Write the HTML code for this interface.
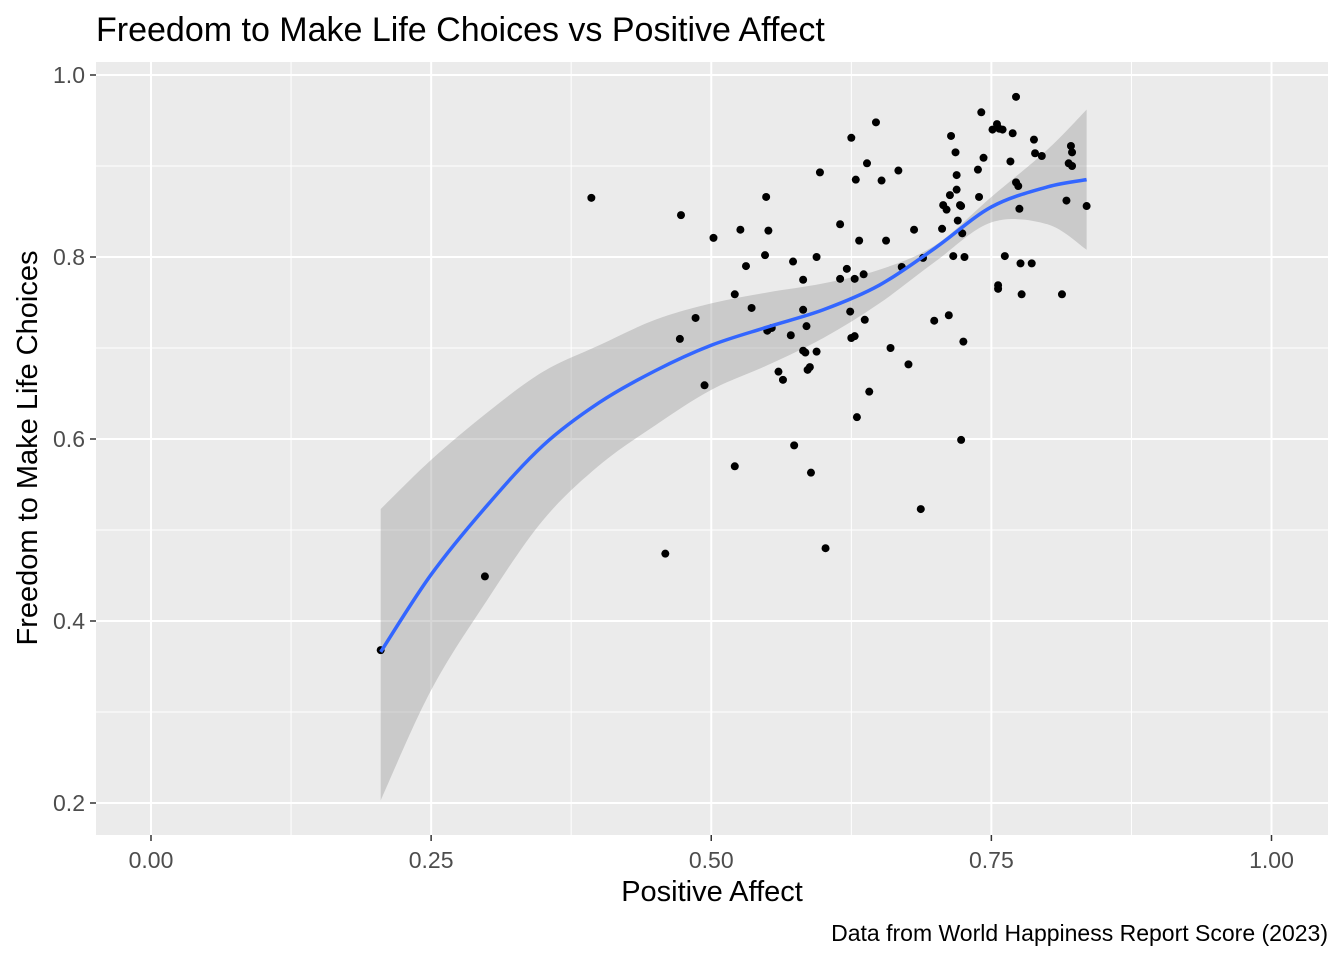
<!DOCTYPE html>
<html><head><meta charset="utf-8"><style>
body{margin:0;background:#fff;}
svg text{font-family:"Liberation Sans",Arial,sans-serif;}
</style></head><body>
<svg id="chart" width="1344" height="960" xmlns="http://www.w3.org/2000/svg">
<rect width="1344" height="960" fill="#fff"/>
<text x="96" y="41" font-size="34" fill="#000">Freedom to Make Life Choices vs Positive Affect</text>
<rect x="96" y="62" width="1232" height="773" fill="#ebebeb"/>
<g id="grid"></g>
<g id="band"></g>
<g id="pts"></g>
<g id="line"></g>
<g id="axes"></g>
<text x="712" y="901" font-size="29" text-anchor="middle" fill="#000">Positive Affect</text>
<text transform="translate(37,448) rotate(-90)" font-size="29" text-anchor="middle" fill="#000">Freedom to Make Life Choices</text>
<text x="1328" y="941" font-size="23" text-anchor="end" fill="#000">Data from World Happiness Report Score (2023)</text>
</svg>
<script>
const xs=[0.205,0.298,0.393,0.459,0.473,0.472,0.486,0.494,0.502,0.521,0.521,0.526,0.531,0.536,0.548,0.549,0.551,0.550,0.554,0.560,0.564,0.571,0.573,0.574,0.582,0.582,0.582,0.584,0.585,0.586,0.588,0.589,0.594,0.594,0.597,0.602,0.615,0.615,0.621,0.624,0.625,0.625,0.628,0.628,0.629,0.630,0.632,0.636,0.637,0.639,0.641,0.647,0.652,0.656,0.660,0.667,0.670,0.676,0.681,0.687,0.689,0.699,0.706,0.707,0.710,0.712,0.713,0.714,0.716,0.718,0.719,0.719,0.720,0.722,0.723,0.723,0.724,0.725,0.726,0.738,0.739,0.741,0.743,0.751,0.755,0.756,0.756,0.757,0.760,0.762,0.767,0.769,0.772,0.772,0.774,0.775,0.776,0.777,0.786,0.788,0.789,0.795,0.813,0.817,0.819,0.821,0.822,0.822,0.835];
const ys=[0.368,0.449,0.865,0.474,0.846,0.710,0.733,0.659,0.821,0.570,0.759,0.830,0.790,0.744,0.802,0.866,0.829,0.719,0.722,0.674,0.665,0.714,0.795,0.593,0.775,0.742,0.697,0.695,0.724,0.676,0.679,0.563,0.696,0.800,0.893,0.480,0.836,0.776,0.787,0.740,0.711,0.931,0.713,0.776,0.885,0.624,0.818,0.781,0.731,0.903,0.652,0.948,0.884,0.818,0.700,0.895,0.789,0.682,0.830,0.523,0.799,0.730,0.831,0.857,0.852,0.736,0.868,0.933,0.801,0.915,0.890,0.874,0.840,0.857,0.599,0.856,0.826,0.707,0.800,0.896,0.866,0.959,0.909,0.940,0.946,0.765,0.769,0.941,0.940,0.801,0.905,0.936,0.976,0.882,0.878,0.853,0.793,0.759,0.793,0.929,0.914,0.911,0.759,0.862,0.903,0.922,0.915,0.900,0.856];
const fitX=[0.205,0.25,0.30,0.35,0.40,0.45,0.50,0.55,0.60,0.65,0.70,0.75,0.80,0.835];
const fitY=[0.366,0.451,0.527,0.593,0.640,0.675,0.703,0.723,0.742,0.769,0.810,0.855,0.877,0.885];
const fitHi=[0.523,0.577,0.629,0.674,0.703,0.731,0.749,0.761,0.771,0.786,0.813,0.866,0.918,0.962];
const fitLo=[0.203,0.324,0.423,0.511,0.571,0.615,0.654,0.681,0.711,0.749,0.795,0.838,0.836,0.808];
const xTicks=["0.00","0.25","0.50","0.75","1.00"];
const yTicks=["0.2","0.4","0.6","0.8","1.0"];
const X=v=>151+v*1120.5, Y=v=>985-v*910;
const NS="http://www.w3.org/2000/svg";
function mk(t,a,p){const e=document.createElementNS(NS,t);for(const k in a)e.setAttribute(k,a[k]);p.appendChild(e);return e;}
function smooth(P,start){let d=start?'M'+P[0][0]+','+P[0][1]:'L'+P[0][0]+','+P[0][1];
for(let i=0;i<P.length-1;i++){const p0=P[i-1]||P[i],p1=P[i],p2=P[i+1],p3=P[i+2]||P[i+1];
d+='C'+(p1[0]+(p2[0]-p0[0])/6)+','+(p1[1]+(p2[1]-p0[1])/6)+' '+(p2[0]-(p3[0]-p1[0])/6)+','+(p2[1]-(p3[1]-p1[1])/6)+' '+p2[0]+','+p2[1];}
return d;}
const grid=document.getElementById('grid'),axes=document.getElementById('axes');
for(let v=0.125;v<1.1;v+=0.25){const l=mk('line',{x1:X(v),x2:X(v),y1:62,y2:835,stroke:'#fff','stroke-width':1},grid);

}
for(let v=0.3;v<1;v+=0.2){const l=mk('line',{x1:96,x2:1328,y1:Y(v),y2:Y(v),stroke:'#fff','stroke-width':1},grid);

}
xTicks.forEach(t=>{const v=parseFloat(t);
const l=mk('line',{x1:X(v),x2:X(v),y1:62,y2:835,stroke:'#fff','stroke-width':2},grid);


mk('line',{x1:X(v),x2:X(v),y1:835,y2:841,stroke:'#333','stroke-width':1.5},axes);
const tx=mk('text',{x:X(v),y:868,'font-size':23,'text-anchor':'middle',fill:'#4d4d4d'},axes);tx.textContent=t;

});
yTicks.forEach(t=>{const v=parseFloat(t);
const l=mk('line',{x1:96,x2:1328,y1:Y(v),y2:Y(v),stroke:'#fff','stroke-width':2},grid);


mk('line',{x1:90,x2:96,y1:Y(v),y2:Y(v),stroke:'#333','stroke-width':1.5},axes);
const tx=mk('text',{x:85,y:Y(v)+8,'font-size':23,'text-anchor':'end',fill:'#4d4d4d'},axes);tx.textContent=t;

});
const hiP=fitX.map((x,i)=>[X(x),Y(fitHi[i])]);
const loP=fitX.map((x,i)=>[X(x),Y(fitLo[i])]).reverse();
const band=mk('path',{d:smooth(hiP,true)+smooth(loP,false)+'Z',fill:'#999','fill-opacity':0.4},document.getElementById('band'));


const pts=document.getElementById('pts');
xs.forEach((x,i)=>{const c=mk('circle',{cx:X(x),cy:Y(ys[i]),r:4,fill:'#000'},pts);

});
const fitP=fitX.map((x,i)=>[X(x),Y(fitY[i])]);
const ln=mk('path',{d:smooth(fitP,true),fill:'none',stroke:'#3366ff','stroke-width':3.5,'stroke-linejoin':'round'},document.getElementById('line'));


</script>
</body></html>
